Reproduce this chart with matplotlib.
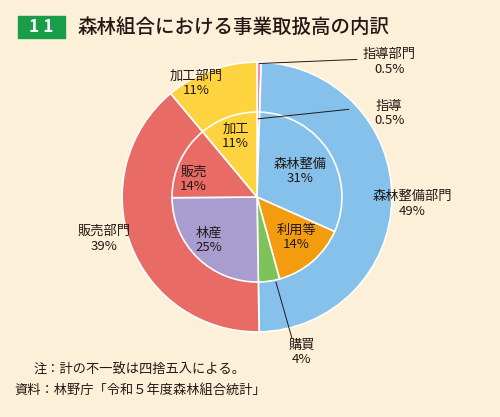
import matplotlib.pyplot as plt
from matplotlib.patches import Rectangle

plt.rcParams['font.family'] = ['Noto Sans CJK JP', 'DejaVu Sans']

outer_labels = ["指導部門", "森林整備部門", "販売部門", "加工部門"]
outer_values = [0.5, 49, 39, 11]
outer_colors = ["#f08cb4", "#85c1ea", "#e96b65", "#fdd33f"]

inner_labels = ["指導", "森林整備", "利用等", "購買", "林産", "販売", "加工"]
inner_values = [0.5, 31, 14, 4, 25, 14, 11]
inner_colors = ["#f08cb4", "#85c1ea", "#f39c0f", "#7dc35a", "#a99dd0", "#e96b65", "#fdd33f"]

bg = "#fdf0d8"
fig = plt.figure(figsize=(5, 4.17), dpi=100, facecolor=bg)
ax = fig.add_axes([0.244, 0.204, 0.54, 0.647])
ax.set_facecolor(bg)

wp = dict(edgecolor="white", linewidth=1.2)
ax.pie(outer_values, colors=outer_colors, startangle=90, counterclock=False,
       radius=1.0, wedgeprops=wp)
ax.pie(inner_values, colors=inner_colors, startangle=90, counterclock=False,
       radius=0.63, wedgeprops=wp)
ax.set_xlim(-1, 1)
ax.set_ylim(-1, 1)
ax.set_aspect("equal")

fs = 9.5
def lab(x, y, name, val):
    ax.text(x, y, f"{name}\n{val}%", ha="center", va="center", fontsize=fs,
            color="#231815", linespacing=1.15, clip_on=False)

# inner labels
lab(0.32, 0.19, "森林整備", 31)
lab(0.29, -0.30, "利用等", 14)
lab(-0.36, -0.32, "林産", 25)
lab(-0.47, 0.13, "販売", 14)
lab(-0.16, 0.45, "加工", 11)
# outer labels
lab(-0.45, 0.84, "加工部門", 11)
lab(-1.13, -0.31, "販売部門", 39)
lab(1.15, -0.05, "森林整備部門", 49)

# callouts
ax.plot([0.02, 0.74], [0.99, 1.02], color="#231815", lw=0.7, clip_on=False)
ax.text(0.98, 1.0, "指導部門\n0.5%", ha="center", va="center", fontsize=fs,
        color="#231815", clip_on=False, linespacing=1.15)
ax.plot([0.01, 0.68], [0.58, 0.65], color="#231815", lw=0.7, clip_on=False)
ax.text(0.98, 0.62, "指導\n0.5%", ha="center", va="center", fontsize=fs,
        color="#231815", clip_on=False, linespacing=1.15)
ax.plot([0.14, 0.26], [-0.63, -1.05], color="#231815", lw=0.7, clip_on=False)
ax.text(0.33, -1.15, "購買\n4%", ha="center", va="center", fontsize=fs,
        color="#231815", clip_on=False, linespacing=1.15)

# title
fig.patches.append(Rectangle((18 / 500, 1 - 38 / 417), 47 / 500, 22 / 417,
                             transform=fig.transFigure, color="#1a9d48"))
fig.text(41 / 500, 1 - 27 / 417, "1 1", ha="center", va="center",
         color="white", fontsize=12.5, fontweight="bold")
fig.text(77 / 500, 1 - 27 / 417, "森林組合における事業取扱高の内訳",
         ha="left", va="center", fontsize=14, color="#231815",
         fontweight="medium")

fig.text(34 / 500, 1 - 370 / 417, "注：計の不一致は四捨五入による。",
         fontsize=9.5, va="center", color="#231815")
fig.text(14 / 500, 1 - 390 / 417, "資料：林野庁「令和５年度森林組合統計」",
         fontsize=9.5, va="center", color="#231815")

fig.savefig("out.png", dpi=100, facecolor=bg)
